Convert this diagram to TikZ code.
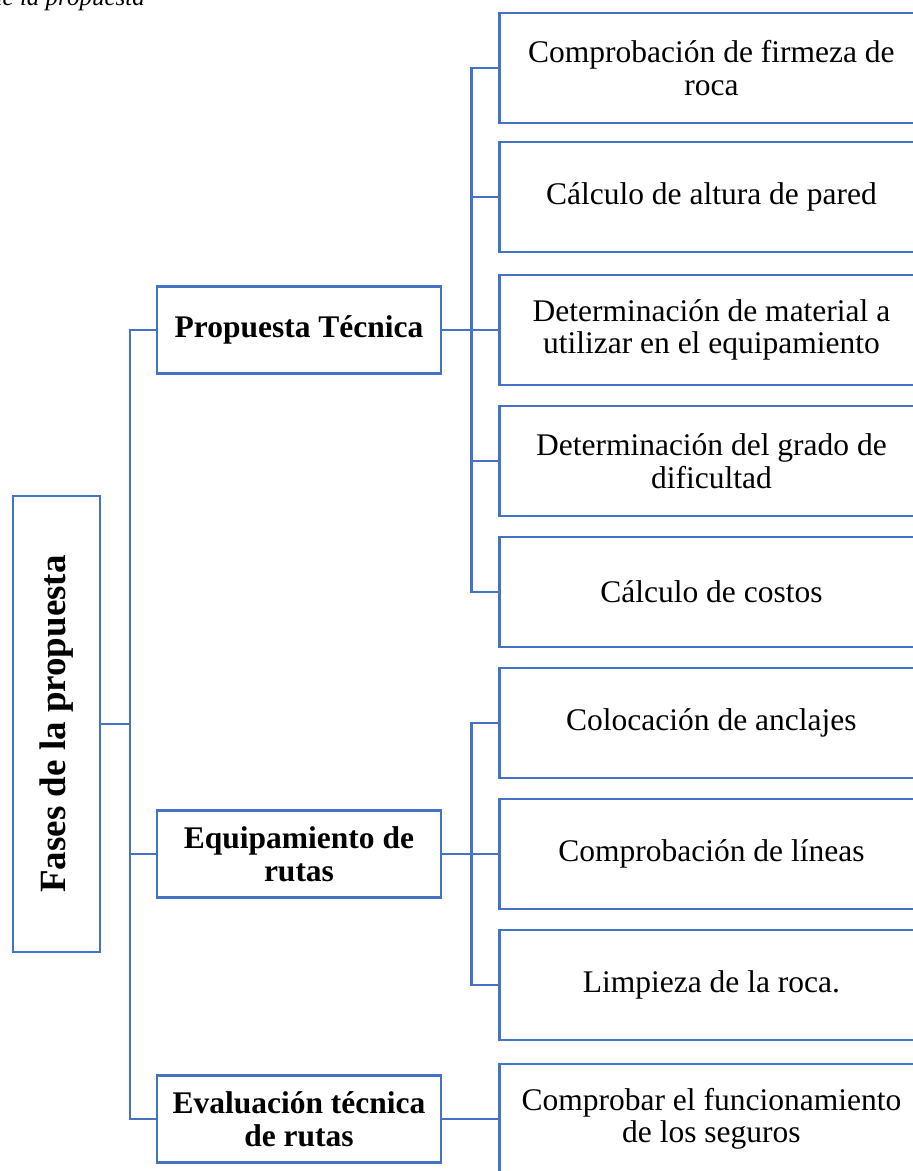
\documentclass[tikz,border=0pt]{standalone}
\usepackage{fontspec}
\setmainfont{Liberation Serif}
\definecolor{azulword}{HTML}{4472C4}
\begin{document}
\begin{tikzpicture}[x=1pt,y=-1pt,
    caja/.style={draw=azulword, line width=2.8pt, fill=white, inner sep=0pt, align=center},
    fase/.style={caja, minimum width=284pt, minimum height=87pt, font=\fontsize{31.5}{33}\selectfont\bfseries},
    tarea/.style={caja, anchor=west, minimum width=424pt, minimum height=110pt, font=\fontsize{31.5}{32.5}\selectfont},
    linea/.style={draw=azulword, line width=2.8pt}]
    \useasboundingbox (0,0) rectangle (913,1171);
    % titulo cortado arriba
    \node[anchor=base east, inner sep=0pt, font=\fontsize{25}{28}\selectfont\itshape] (titulo) at (145,5) {de la propuesta};
    % raiz
    \node[caja, rotate=90, minimum width=456pt, minimum height=87pt, font=\fontsize{37}{40}\selectfont\bfseries] (raiz) at (56.5,724) {Fases de la propuesta};
    % fases
    \node[fase] (f1) at (299,330) {Propuesta Técnica};
    \node[fase] (f2) at (299,854) {Equipamiento de\\rutas};
    \node[fase] (f3) at (299,1119) {Evaluación técnica\\de rutas};
    % tareas
    \node[tarea] (t1) at (498,68) {Comprobación de firmeza de\\roca};
    \node[tarea] (t2) at (498,197) {Cálculo de altura de pared};
    \node[tarea] (t3) at (498,330) {Determinación de material a\\utilizar en el equipamiento};
    \node[tarea] (t4) at (498,461) {Determinación del grado de\\dificultad};
    \node[tarea] (t5) at (498,592) {Cálculo de costos};
    \node[tarea] (t6) at (498,723) {Colocación de anclajes};
    \node[tarea] (t7) at (498,854) {Comprobación de líneas};
    \node[tarea] (t8) at (498,985) {Limpieza de la roca.};
    \node[tarea] (t9) at (498,1119) {Comprobar el funcionamiento\\de los seguros};
    % conectores
    \foreach \f in {f1,f2,f3}
        \draw[linea] (raiz.south) -- ++(28.5,0) |- (\f.west);
    \foreach \t in {t1,t2,t3,t4,t5}
        \draw[linea] (f1.east) -- ++(29,0) |- (\t.west);
    \foreach \t in {t6,t7,t8}
        \draw[linea] (f2.east) -- ++(29,0) |- (\t.west);
    \draw[linea] (f3.east) -- (t9.west);
\end{tikzpicture}
\end{document}
